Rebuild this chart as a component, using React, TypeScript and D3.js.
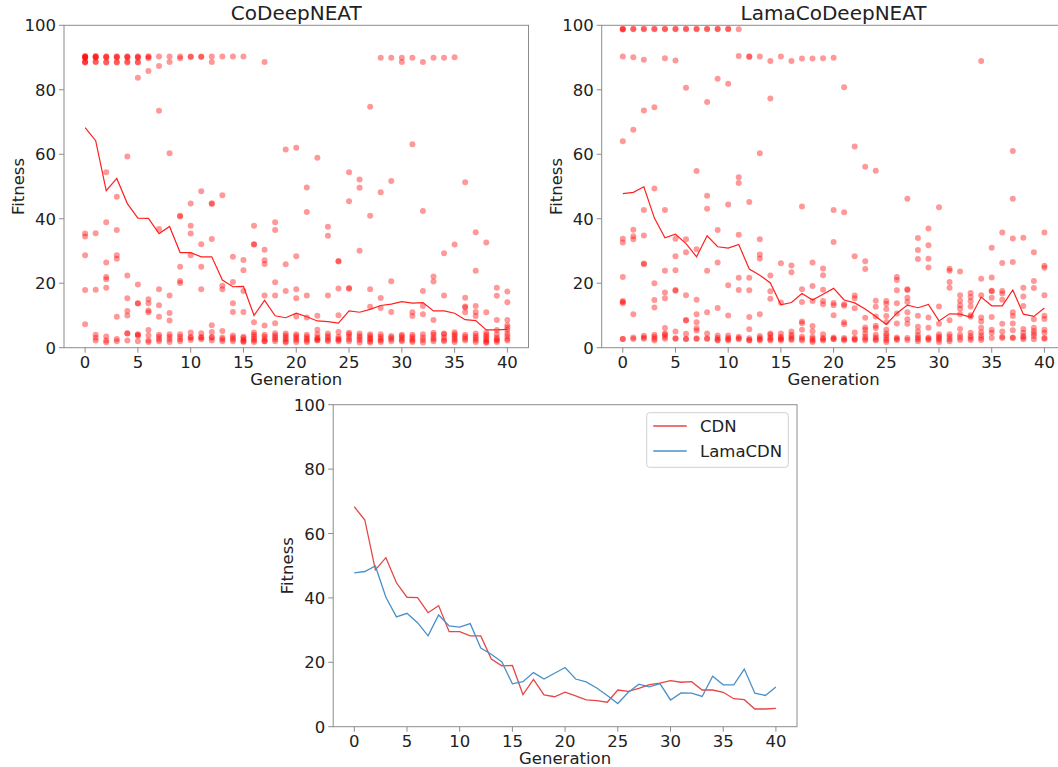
import React from "react";
import * as d3 from "d3";

const generations: number[] = d3.range(0, 41);
const xTicks = [0, 5, 10, 15, 20, 25, 30, 35, 40];
const yTicks = [0, 20, 40, 60, 80, 100];

const cdnMean = [68.3, 64.2, 48.7, 52.5, 44.7, 40.2, 40.1, 35.4, 37.6, 29.5, 29.5, 28.2, 28.2, 21.0, 18.9, 19.0, 10.0, 14.7, 9.9, 9.3, 10.7, 9.6, 8.3, 8.1, 7.6, 11.4, 11.0, 11.9, 13.1, 13.5, 14.3, 13.8, 14.0, 11.4, 11.4, 10.7, 8.7, 8.4, 5.5, 5.5, 5.7];
const lamaMean = [47.8, 48.2, 49.9, 40.2, 34.1, 35.2, 32.3, 28.2, 34.7, 31.3, 30.9, 32.0, 24.4, 22.5, 20.1, 13.3, 14.0, 16.8, 14.8, 16.6, 18.4, 14.8, 13.9, 12.0, 9.7, 7.2, 10.7, 13.2, 12.4, 13.4, 8.3, 10.5, 10.4, 9.4, 15.7, 13.0, 13.0, 17.9, 10.4, 9.7, 12.3];

const cdnPoints: number[][] = [
  [90.5, 90.3, 90.2, 90.0, 89.9, 88.7, 88.6, 88.5, 35.4, 34.5, 28.7, 17.9, 7.3],
  [90.5, 90.3, 90.1, 90.0, 88.7, 88.6, 35.5, 18.0, 4.0, 3.1, 2.2],
  [90.4, 90.2, 90.0, 88.6, 88.5, 54.4, 38.9, 26.4, 21.9, 21.2, 18.6, 3.5, 2.2, 1.7],
  [90.4, 90.2, 90.0, 88.6, 88.5, 46.8, 36.5, 28.7, 27.6, 9.6, 2.7, 2.0],
  [90.4, 90.2, 90.0, 88.7, 88.5, 59.3, 22.4, 15.3, 11.4, 10.0, 4.5, 4.4, 2.2],
  [90.4, 90.1, 90.0, 88.6, 88.5, 83.7, 19.6, 13.8, 13.7, 4.2, 4.0, 3.6, 2.0],
  [90.4, 90.2, 89.8, 85.8, 15.0, 13.8, 11.5, 11.0, 5.5, 3.8, 2.2, 1.8],
  [90.3, 87.4, 73.5, 36.8, 18.1, 13.2, 9.6, 4.0, 3.4, 2.6, 2.0],
  [90.3, 88.6, 60.3, 16.2, 10.8, 8.4, 4.2, 3.4, 2.6, 1.8],
  [90.3, 89.8, 40.9, 40.7, 25.1, 20.7, 20.1, 4.2, 3.4, 2.6, 2.0],
  [90.3, 90.2, 44.7, 37.8, 35.4, 28.7, 4.7, 3.3, 3.1, 2.4],
  [90.3, 90.2, 48.5, 32.1, 25.1, 18.1, 4.5, 3.3, 3.1, 2.6],
  [90.3, 88.6, 44.8, 44.6, 33.7, 7.0, 4.9, 3.3, 3.1, 2.2],
  [90.3, 47.3, 19.2, 18.1, 5.2, 3.2, 2.6, 2.0],
  [90.3, 28.2, 20.4, 13.8, 11.1, 3.8, 3.2, 2.6, 2.0],
  [90.3, 27.2, 24.0, 17.6, 11.1, 3.4, 3.0, 2.4, 2.0, 1.8],
  [37.8, 32.1, 32.0, 7.9, 4.7, 4.0, 3.4, 2.8, 2.2, 1.8],
  [88.6, 30.4, 27.1, 26.0, 16.2, 6.9, 4.0, 3.4, 2.6, 2.0, 2.0],
  [38.9, 36.5, 20.3, 16.2, 7.6, 4.5, 3.8, 3.2, 2.6, 2.0],
  [61.5, 25.9, 17.6, 4.4, 3.8, 3.2, 2.6, 2.0, 1.6],
  [62.0, 28.4, 18.1, 15.3, 9.7, 4.2, 3.6, 3.0, 2.4, 1.8],
  [49.7, 42.1, 16.2, 9.4, 4.0, 3.4, 2.8, 2.2, 1.8],
  [58.9, 9.9, 5.6, 4.2, 3.2, 2.8, 2.4, 2.2],
  [37.5, 34.7, 16.2, 4.4, 3.6, 3.0, 2.4, 2.0],
  [26.9, 26.7, 18.4, 10.1, 4.9, 3.4, 2.8, 2.4, 2.0],
  [54.4, 45.4, 18.5, 18.3, 4.6, 4.2, 3.4, 2.6, 2.0],
  [52.2, 49.6, 30.1, 4.4, 3.6, 3.0, 2.4, 1.6],
  [74.7, 40.9, 18.1, 12.7, 4.2, 3.6, 3.0, 2.6, 2.0, 1.6],
  [89.9, 48.2, 15.4, 12.3, 4.2, 3.4, 2.8, 2.2, 1.8],
  [89.9, 51.7, 20.6, 11.1, 3.6, 3.2, 2.6, 2.0],
  [89.9, 88.6, 4.0, 3.6, 3.0, 2.4, 2.0],
  [89.9, 63.1, 11.0, 9.8, 4.0, 3.4, 2.8, 2.2, 1.8],
  [88.6, 42.4, 17.6, 12.9, 10.4, 4.2, 3.2, 2.4, 1.6],
  [89.9, 22.1, 20.5, 8.6, 4.6, 4.0, 3.2, 2.6, 2.0],
  [89.9, 29.3, 16.2, 4.4, 4.2, 3.2, 2.4, 2.0],
  [90.1, 32.0, 4.8, 4.2, 3.6, 3.0, 2.4, 1.8],
  [51.3, 15.5, 12.8, 12.5, 11.0, 4.0, 3.4, 2.8, 2.2],
  [35.8, 23.9, 12.9, 11.1, 9.8, 4.4, 3.6, 3.0, 2.4, 1.8],
  [32.6, 11.0, 4.6, 4.0, 3.4, 2.8, 2.2, 1.8, 1.5],
  [18.6, 16.1, 8.6, 5.5, 4.2, 3.2, 2.6, 2.2, 1.8],
  [17.4, 14.1, 8.6, 7.0, 6.3, 5.5, 4.4, 3.6, 2.8, 2.2],
];

const lamaPoints: number[][] = [
  [98.9, 98.8, 98.7, 90.3, 64.0, 33.8, 32.6, 21.9, 14.5, 14.2, 13.8, 2.7, 2.7],
  [98.9, 98.8, 90.1, 67.6, 36.6, 34.6, 33.6, 10.4, 3.2, 2.7],
  [98.9, 98.8, 89.3, 73.6, 42.7, 34.8, 26.1, 25.9, 3.7, 3.2, 2.8],
  [98.9, 98.8, 74.6, 49.4, 20.0, 14.8, 12.5, 4.0, 3.4, 2.8, 2.2],
  [98.9, 98.8, 89.8, 42.7, 23.9, 17.1, 15.3, 6.1, 4.4, 4.1, 3.4, 2.8],
  [98.9, 98.8, 89.1, 33.8, 28.4, 24.0, 17.9, 17.7, 5.0, 2.9, 2.8],
  [98.9, 98.8, 80.6, 33.6, 29.6, 16.3, 8.6, 8.4, 4.3, 2.8, 2.6],
  [98.9, 98.8, 54.8, 30.5, 14.9, 10.4, 7.9, 6.0, 5.3, 2.9, 2.7],
  [98.9, 98.8, 76.2, 47.1, 43.1, 23.9, 11.0, 4.4, 2.9, 2.7],
  [98.9, 98.8, 83.4, 36.5, 26.4, 12.3, 3.8, 3.0, 2.5, 2.2],
  [98.9, 98.8, 81.9, 44.4, 19.4, 10.0, 3.8, 3.0, 2.6, 2.2],
  [98.8, 90.5, 52.9, 51.1, 35.0, 21.7, 17.9, 3.4, 2.9, 2.6],
  [90.4, 90.2, 45.2, 21.7, 17.8, 9.5, 5.7, 2.9, 2.4, 2.2],
  [90.3, 60.3, 33.6, 28.9, 27.7, 10.4, 3.6, 3.0, 2.6, 2.2],
  [88.9, 77.3, 22.4, 17.5, 15.2, 4.4, 4.0, 3.2, 2.6, 2.2],
  [90.3, 26.2, 14.0, 4.4, 3.4, 2.9, 2.6, 2.2],
  [88.9, 25.5, 23.4, 5.0, 4.0, 3.4, 2.8, 2.4],
  [89.7, 43.8, 18.1, 14.2, 8.1, 7.6, 5.6, 3.4, 2.8, 2.2],
  [89.7, 26.4, 19.1, 14.5, 6.7, 5.1, 3.4, 2.8, 2.2, 1.8],
  [89.8, 24.6, 22.5, 18.0, 14.5, 13.5, 4.2, 3.0, 2.6, 2.2],
  [89.9, 42.7, 32.8, 13.9, 13.2, 10.1, 3.2, 2.8, 2.6],
  [80.8, 42.0, 13.5, 13.0, 7.9, 7.3, 3.0, 2.6, 2.2],
  [62.4, 28.4, 16.2, 15.3, 12.2, 4.7, 3.0, 2.6, 2.4],
  [56.1, 26.8, 24.4, 9.3, 6.3, 5.6, 4.4, 3.4, 2.8, 2.2],
  [54.9, 14.6, 12.7, 9.7, 6.8, 6.1, 4.0, 3.2, 2.6, 2.2],
  [14.5, 13.6, 12.0, 9.8, 8.0, 5.6, 4.4, 3.8, 3.0, 2.4, 1.8],
  [21.9, 21.0, 17.8, 13.8, 10.6, 7.5, 3.2, 2.8, 2.4],
  [46.2, 18.1, 17.9, 15.5, 14.2, 11.0, 8.8, 7.4, 3.0, 2.4],
  [34.0, 30.3, 27.5, 9.9, 6.5, 5.0, 3.9, 3.2, 2.6, 2.0],
  [37.0, 31.8, 27.6, 24.9, 9.4, 6.2, 3.2, 2.8, 2.4],
  [43.6, 12.8, 7.4, 4.2, 3.5, 3.0, 2.5, 1.8],
  [24.5, 23.9, 20.4, 18.6, 8.5, 4.2, 3.4, 2.6, 2.0],
  [23.6, 16.3, 14.6, 13.2, 12.1, 10.4, 5.8, 4.0, 3.2, 2.4],
  [17.0, 15.7, 14.4, 12.8, 10.1, 9.6, 4.6, 3.6, 3.0, 2.4],
  [88.9, 21.4, 16.3, 9.4, 8.1, 6.2, 4.8, 3.8, 3.0, 2.4],
  [31.0, 21.8, 17.7, 17.5, 15.5, 9.5, 5.6, 4.6, 3.0],
  [35.7, 26.3, 17.6, 16.8, 14.9, 7.4, 5.0, 3.4, 3.0],
  [61.0, 46.2, 33.9, 26.6, 11.0, 9.8, 7.5, 5.4, 3.2, 3.0],
  [34.1, 18.6, 15.9, 12.9, 5.8, 4.6, 3.6, 3.2, 2.6],
  [29.6, 20.7, 18.5, 8.8, 6.2, 5.2, 4.4, 3.6, 2.6],
  [35.7, 25.4, 24.8, 16.3, 9.9, 8.9, 5.6, 4.6, 3.0, 2.8],
];

const legendLabels = ["CDN", "LamaCDN"];
const FONT = "DejaVu Sans, sans-serif";
const SPINE = "#8c8c8c";
const TEXT = "#222";

type Box = { left: number; right: number; top: number; bottom: number };

function Axes({ box, title, children }: { box: Box; title?: string; children: (x: d3.ScaleLinear<number, number>, y: d3.ScaleLinear<number, number>) => React.ReactNode }) {
  const x = d3.scaleLinear().domain([-2, 42]).range([box.left, box.right]);
  const y = d3.scaleLinear().domain([0, 100]).range([box.bottom, box.top]);
  const cx = (box.left + box.right) / 2;
  const cy = (box.top + box.bottom) / 2;
  const id = `clip-${Math.round(box.left)}-${Math.round(box.top)}`;
  return (
    <g>
      <defs>
        <clipPath id={id}>
          <rect x={box.left} y={box.top} width={box.right - box.left} height={box.bottom - box.top} />
        </clipPath>
      </defs>
      <g clipPath={`url(#${id})`}>{children(x, y)}</g>
      <rect x={box.left} y={box.top} width={box.right - box.left} height={box.bottom - box.top} fill="none" stroke={SPINE} strokeWidth={1} />
      {xTicks.map((t) => (
        <g key={`xt${t}`}>
          <line x1={x(t)} x2={x(t)} y1={box.bottom} y2={box.bottom + 5} stroke={SPINE} />
          <text x={x(t)} y={box.bottom + 20} textAnchor="middle" fontSize={16.5} fill={TEXT} fontFamily={FONT}>{t}</text>
        </g>
      ))}
      {yTicks.map((t) => (
        <g key={`yt${t}`}>
          <line x1={box.left - 5} x2={box.left} y1={y(t)} y2={y(t)} stroke={SPINE} />
          <text x={box.left - 8} y={y(t) + 6} textAnchor="end" fontSize={16.5} fill={TEXT} fontFamily={FONT}>{t}</text>
        </g>
      ))}
      <text x={cx} y={box.bottom + 37} textAnchor="middle" fontSize={16.5} fill={TEXT} fontFamily={FONT}>Generation</text>
      <text transform={`translate(${box.left - 40},${cy}) rotate(-90)`} textAnchor="middle" fontSize={16.5} fill={TEXT} fontFamily={FONT}>Fitness</text>
      {title && (
        <text x={cx} y={box.top - 5} textAnchor="middle" fontSize={20} fill={TEXT} fontFamily={FONT}>{title}</text>
      )}
    </g>
  );
}

function scatterPanel(points: number[][], mean: number[]) {
  return (x: d3.ScaleLinear<number, number>, y: d3.ScaleLinear<number, number>) => {
    const line = d3.line<number>().x((_, i) => x(generations[i])).y((d) => y(d));
    return (
      <g>
        {points.map((vals, g) =>
          vals.map((v, j) => (
            <circle key={`p${g}-${j}`} cx={x(generations[g])} cy={y(v)} r={3} fill="#ff0000" fillOpacity={0.4} />
          ))
        )}
        <path d={line(mean) || ""} fill="none" stroke="#ff2020" strokeWidth={1.2} />
      </g>
    );
  };
}

export default function App() {
  const boxA: Box = { left: 64, right: 528.5, top: 25.3, bottom: 347.7 };
  const boxB: Box = { left: 601.7, right: 1065.5, top: 25.3, bottom: 347.7 };
  const boxC: Box = { left: 333.2, right: 797, top: 404.7, bottom: 726.7 };
  const colors = ["#e64646", "#4a90c6"];
  return (
    <svg width={1058} height={767} style={{ position: "absolute", left: 0, top: 0, background: "#fff" }}>
      <rect width={1058} height={767} fill="#fff" />
      <Axes box={boxA} title="CoDeepNEAT">{scatterPanel(cdnPoints, cdnMean)}</Axes>
      <Axes box={boxB} title="LamaCoDeepNEAT">{scatterPanel(lamaPoints, lamaMean)}</Axes>
      <Axes box={boxC}>
        {(x, y) => {
          const line = d3.line<number>().x((_, i) => x(generations[i])).y((d) => y(d));
          return (
            <g>
              <path d={line(cdnMean) || ""} fill="none" stroke={colors[0]} strokeWidth={1.3} />
              <path d={line(lamaMean) || ""} fill="none" stroke={colors[1]} strokeWidth={1.3} />
            </g>
          );
        }}
      </Axes>
      <g>
        <rect x={646.7} y={412.7} width={141.6} height={54.6} rx={3} fill="#fff" fillOpacity={0.8} stroke="#d0d0d0" />
        {legendLabels.map((lab, i) => (
          <g key={lab}>
            <line x1={653.3} x2={686.7} y1={426 + i * 25} y2={426 + i * 25} stroke={colors[i]} strokeWidth={1.3} />
            <text x={700} y={426 + i * 25 + 6} fontSize={16.5} fill={TEXT} fontFamily={FONT}>{lab}</text>
          </g>
        ))}
      </g>
    </svg>
  );
}
